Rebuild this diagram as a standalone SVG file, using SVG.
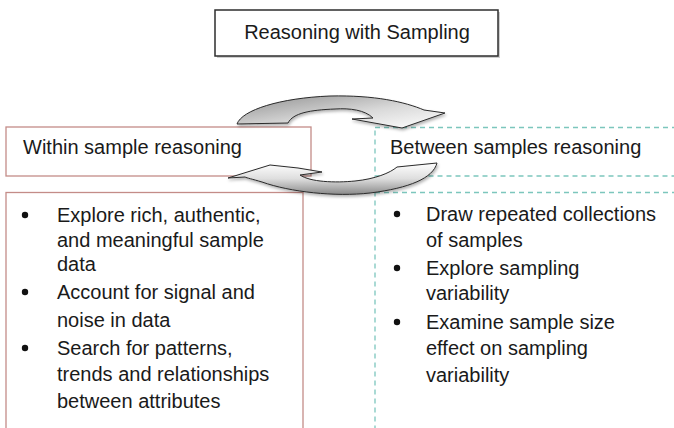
<svg xmlns="http://www.w3.org/2000/svg" width="674" height="428" viewBox="0 0 674 428">
  <style>
    .t { font-family: "Liberation Sans", Arial, sans-serif; font-size: 20px; fill: #1a1a1a; }
    .red { fill: #ffffff; stroke: #c48c88; stroke-width: 1.3; }
    .teal { fill: #ffffff; stroke: #7cc6bd; stroke-width: 1.3; stroke-dasharray: 5 4; }
    .bul { fill: #111111; }
    .arr { stroke: #2a2a2a; stroke-width: 1; stroke-linejoin: round; }
  </style>
  <defs>
    <linearGradient id="gTop" x1="0" y1="0" x2="1" y2="1">
      <stop offset="0" stop-color="#8f8f8f"/>
      <stop offset="0.55" stop-color="#d9d9d9"/>
      <stop offset="1" stop-color="#ffffff"/>
    </linearGradient>
    <linearGradient id="gBot" x1="0" y1="0" x2="0" y2="1">
      <stop offset="0" stop-color="#ffffff"/>
      <stop offset="0.5" stop-color="#dedede"/>
      <stop offset="1" stop-color="#8a8a8a"/>
    </linearGradient>
    <filter id="sh" x="-10%" y="-20%" width="130%" height="160%">
      <feDropShadow dx="1" dy="2" stdDeviation="1.5" flood-color="#000" flood-opacity="0.3"/>
    </filter>
  </defs>

  <rect width="674" height="428" fill="#ffffff"/>

  <g id="title">
    <rect x="217" y="12" width="283" height="46" fill="#cfcfcf"/>
    <rect x="215" y="10" width="283" height="46" fill="#ffffff" stroke="#2e2e2e" stroke-width="1.5"/>
    <text class="t" x="357" y="39" text-anchor="middle">Reasoning with Sampling</text>
  </g>

  <g id="within-header">
    <rect class="red" x="6" y="127" width="305" height="49"/>
    <text class="t" x="23" y="154">Within sample reasoning</text>
  </g>

  <g id="between-header">
    <rect class="teal" x="375" y="127.5" width="320" height="48.5"/>
    <text class="t" x="390" y="154">Between samples reasoning</text>
  </g>

  <g id="within-list">
    <rect class="red" x="6" y="192.5" width="297" height="240"/>
    <circle class="bul" cx="25" cy="215" r="3.2"/>
    <circle class="bul" cx="25" cy="292" r="3.2"/>
    <circle class="bul" cx="25" cy="348" r="3.2"/>
    <text class="t" x="57" y="222">Explore rich, authentic,</text>
    <text class="t" x="57" y="247">and meaningful sample</text>
    <text class="t" x="57" y="271">data</text>
    <text class="t" x="57" y="299">Account for signal and</text>
    <text class="t" x="57" y="327">noise in data</text>
    <text class="t" x="57" y="355">Search for patterns,</text>
    <text class="t" x="57" y="381">trends and relationships</text>
    <text class="t" x="57" y="408">between attributes</text>
  </g>

  <g id="between-list">
    <rect class="teal" x="375" y="192.5" width="320" height="240"/>
    <circle class="bul" cx="397" cy="214" r="3.2"/>
    <circle class="bul" cx="397" cy="268" r="3.2"/>
    <circle class="bul" cx="397" cy="322" r="3.2"/>
    <text class="t" x="426" y="221">Draw repeated collections</text>
    <text class="t" x="426" y="247">of samples</text>
    <text class="t" x="426" y="275">Explore sampling</text>
    <text class="t" x="426" y="300">variability</text>
    <text class="t" x="426" y="329">Examine sample size</text>
    <text class="t" x="426" y="355">effect on sampling</text>
    <text class="t" x="426" y="382">variability</text>
  </g>

  <g id="connectors">
    <path id="arrow-top" class="arr" fill="url(#gTop)" filter="url(#sh)"
      d="M 237,124 C 242,110 280,98 330,96 C 375,95 405,102 424,110 L 445,113 L 402,128 L 352,119 L 373,118 C 365,110 350,108 335,109 C 310,110 293,113 288,123 Z"/>
    <path id="arrow-bottom" class="arr" fill="url(#gBot)" filter="url(#sh)"
      d="M 228,178 L 270,165 L 298,168 L 322,172 L 300,175 C 310,182 335,183 355,181 C 375,179 390,173 397,167 L 437,163 C 433,178 410,188 370,193 C 335,197 290,192 262,182 C 252,179 247,178 245,177 Z"/>
  </g>
</svg>
